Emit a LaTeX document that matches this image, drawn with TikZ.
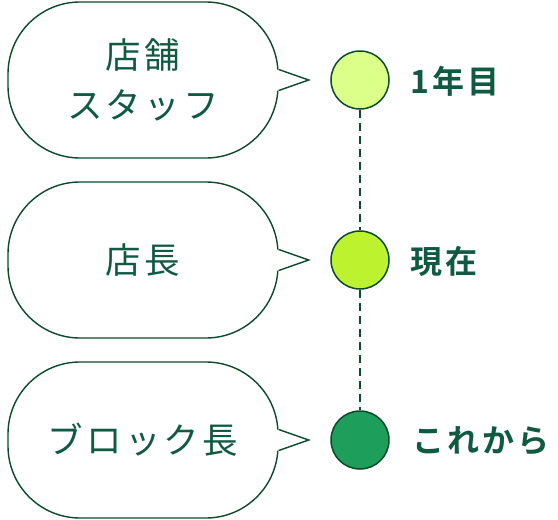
\documentclass[tikz,border=0pt]{standalone}
\usepackage{fontspec}
\setmainfont{Noto Sans CJK JP}
\newfontfamily\jpbub[LetterSpace=9]{Noto Sans CJK JP}
\newfontfamily\jplab[LetterSpace=10,BoldFont={Noto Sans CJK JP Bold}]{Noto Sans CJK JP}
\definecolor{txtgreen}{HTML}{0F5A40}
\definecolor{linegreen}{HTML}{0B4A2A}
\definecolor{cA}{HTML}{DCFF8A}
\definecolor{cB}{HTML}{BDF22F}
\definecolor{cC}{HTML}{1E9E5B}
\tikzset{
  bubble/.style={draw=linegreen, line width=1.4pt, fill=white, rounded corners=72pt,
    minimum width=270pt, minimum height=156pt, inner sep=0pt, align=center,
    text=txtgreen, font=\jpbub\fontsize{35.5pt}{50pt}\selectfont},
  dot/.style={circle, draw=linegreen, line width=1.5pt, minimum size=58pt, inner sep=0pt},
  lab/.style={anchor=west, text=txtgreen, inner sep=0pt, font=\jplab\bfseries\fontsize{32pt}{38pt}\selectfont},
  dashline/.style={draw=linegreen, line width=1.5pt, dash pattern=on 8pt off 5pt}
}
\newcommand{\pointer}[1]{%
  \fill[white] ([yshift=10.5pt]#1.east) -- ++(30pt,-10.5pt) -- ([yshift=-10.5pt]#1.east) -- ++(-3pt,0) -- ++(0,21pt) -- cycle;
  \draw[linegreen, line width=1.4pt, line join=miter] ([yshift=10.5pt]#1.east) -- ++(30pt,-10.5pt) -- ([yshift=-10.5pt]#1.east);
}
\begin{document}
\begin{tikzpicture}[x=1pt,y=-1pt]
\useasboundingbox[fill=white] (0,0) rectangle (558,520);
\node[bubble] (b1) at (143,80) {店舗\\スタッフ};
\node[bubble] (b2) at (143,260) {店長};
\node[bubble] (b3) at (143,440) {ブロック長};
\pointer{b1}
\pointer{b2}
\pointer{b3}
\node[dot, fill=cA] (c1) at (360,80) {};
\node[dot, fill=cB] (c2) at (360,260) {};
\node[dot, fill=cC] (c3) at (360,440) {};
\draw[dashline] (c1.south) -- (c2.north);
\draw[dashline] (c2.south) -- (c3.north);
\node[lab] (l1) at (410,81) {1年目};
\node[lab] (l2) at (410,261) {現在};
\node[lab] (l3) at (412,441) {これから};
\end{tikzpicture}
\end{document}
